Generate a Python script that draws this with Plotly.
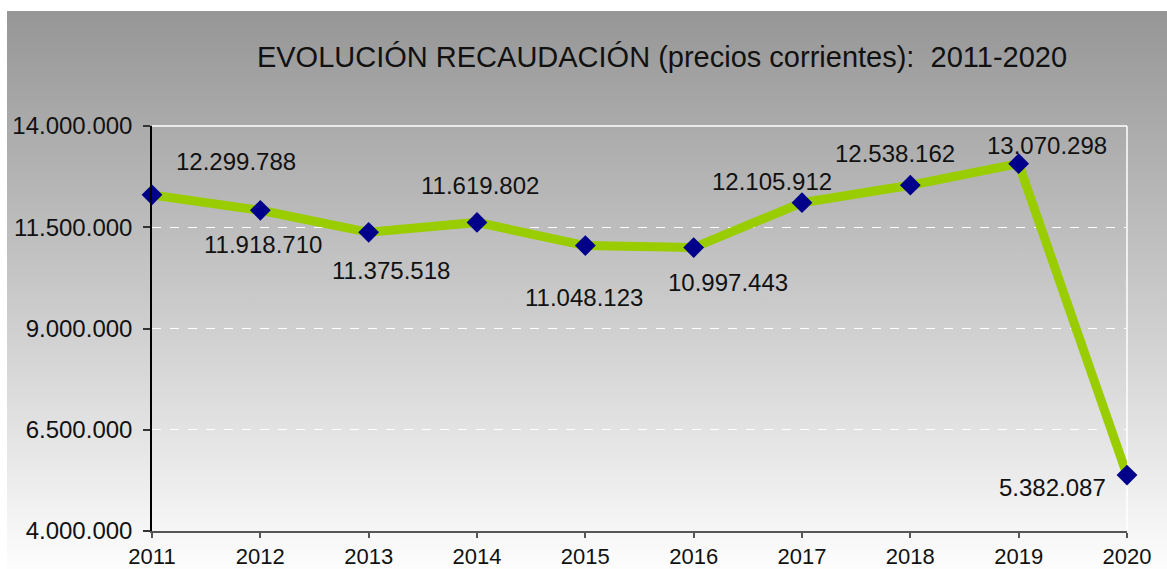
import base64
import plotly.graph_objects as go

# datos
years = [2011, 2012, 2013, 2014, 2015, 2016, 2017, 2018, 2019, 2020]
recaudacion = [12299788, 11918710, 11375518, 11619802, 11048123,
               10997443, 12105912, 12538162, 13070298, 5382087]
title_text = "EVOLUCIÓN RECAUDACIÓN (precios corrientes):  2011-2020"

# posicion de las etiquetas respecto al punto (px)
label_dx = [84, 3, 22, 3, -1, 34, -30, -15, 28, -75]
label_dy = [33, -34, -38, 37, -52, -35, 21, 32, 18, -12]

W, H = 1167, 569
L, R, T, B = 152, 40, 126, 38
pw, ph = W - L - R, H - T - B

# fondo degradado gris -> blanco
svg = ('<svg xmlns="http://www.w3.org/2000/svg" width="100" height="100" preserveAspectRatio="none">'
       '<defs><linearGradient id="g" x1="0" y1="0" x2="0" y2="1">'
       '<stop offset="0" stop-color="#969696"/><stop offset="0.5" stop-color="#c8c8c8"/>'
       '<stop offset="1" stop-color="#fdfdfd"/></linearGradient></defs>'
       '<rect width="100" height="100" fill="url(#g)"/></svg>')
bg_src = "data:image/svg+xml;base64," + base64.b64encode(svg.encode()).decode()

def px_x(p):
    return (p - L) / pw

def px_y(p):
    return (H - B - p) / ph

fig = go.Figure()
fig.add_trace(go.Scatter(
    x=years, y=recaudacion, mode='lines+markers',
    line=dict(color='#9acd00', width=9),
    marker=dict(symbol='diamond', size=16, color='#00008b'),
    cliponaxis=False, hoverinfo='x+y'
))

for x, v, dx, dy in zip(years, recaudacion, label_dx, label_dy):
    fig.add_annotation(
        x=x, y=v, text=f"{v:,}".replace(',', '.'), showarrow=False,
        xshift=dx, yshift=dy, xanchor='center', yanchor='middle',
        font=dict(size=24, color='#111111')
    )

fig.update_layout(
    width=W, height=H, autosize=False,
    margin=dict(l=L, r=R, t=T, b=B),
    paper_bgcolor='white',
    plot_bgcolor='rgba(0,0,0,0)',
    separators=',.',
    showlegend=False,
    font=dict(family='Liberation Sans, Arial, sans-serif', size=24, color='#111111'),
    title=dict(text=title_text, xref='container', yref='container',
               x=662 / W, y=1 - 57 / H, xanchor='center', yanchor='middle',
               font=dict(size=29, color='#111111')),
    images=[dict(source=bg_src, xref='paper', yref='paper',
                 x=px_x(7), y=px_y(11), sizex=(W - 7) / pw, sizey=(H - 11) / ph,
                 xanchor='left', yanchor='top', sizing='stretch', layer='below')],
    shapes=[
        dict(type='line', xref='paper', yref='paper', x0=0, x1=1, y0=1, y1=1,
             line=dict(color='white', width=1.5), layer='below'),
        dict(type='line', xref='paper', yref='paper', x0=1, x1=1, y0=0, y1=1,
             line=dict(color='white', width=1.5), layer='below'),
    ],
    xaxis=dict(range=[2011, 2020], tickmode='array', tickvals=years,
               showgrid=False, zeroline=False, automargin=False,
               showline=True, linecolor='#555555', linewidth=2,
               ticks='outside', ticklen=5, tickcolor='#555555', tickwidth=1.5,
               tickfont=dict(size=22)),
    yaxis=dict(range=[4000000, 14000000], tick0=4000000, dtick=2500000,
               tickformat=',d', showgrid=True, gridcolor='white',
               griddash='dash', gridwidth=1, zeroline=False, automargin=False,
               showline=True, linecolor='black', linewidth=1.5,
               ticks='outside', ticklen=7, tickcolor='#333333', tickwidth=1.5,
               ticklabelstandoff=6),
)

fig.write_html("out.html",
               config={'displayModeBar': False, 'responsive': False},
               post_script="document.body.style.margin='0';")
